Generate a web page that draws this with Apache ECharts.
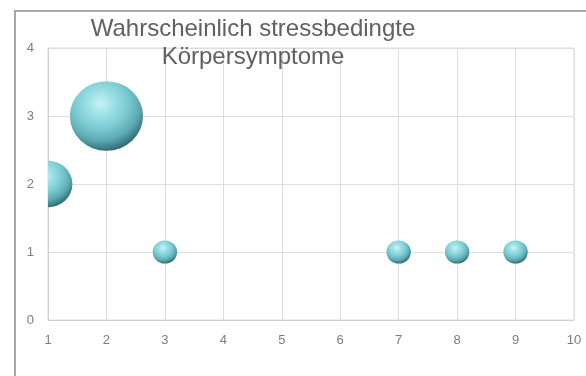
<!DOCTYPE html>
<html>
<head>
<meta charset="utf-8">
<script src="https://cdn.jsdelivr.net/npm/echarts@6/dist/echarts.min.js"></script>
<style>
  html, body { margin: 0; padding: 0; background: #ffffff; }
  #chart { width: 586px; height: 376px; }
</style>
</head>
<body>
<div id="chart"></div>
<script>
// Bubble data: symptom number, frequency, bubble size
const xValues = [1, 2, 3, 7, 8, 9];
const yValues = [2, 3, 1, 1, 1, 1];
const bubbleSizes = [2, 3, 1, 1, 1, 1];

const xTicks = { min: 1, max: 10, interval: 1 };
const yTicks = { min: 0, max: 4, interval: 1 };

const titleText = 'Wahrscheinlich stressbedingte\nKörpersymptome';

const points = xValues.map((x, i) => [x, yValues[i], bubbleSizes[i]]);

// Shaded sphere look for each bubble
const sphereFill = {
  type: 'radial', x: 0.42, y: 0.32, r: 0.72,
  colorStops: [
    { offset: 0, color: '#c8f3f7' },
    { offset: 0.22, color: '#a0e2e8' },
    { offset: 0.5, color: '#7ccbd3' },
    { offset: 0.75, color: '#5ba8b0' },
    { offset: 0.9, color: '#3b7c84' },
    { offset: 1, color: '#285b61' }
  ]
};

const chart = echarts.init(document.getElementById('chart'), null, { renderer: 'canvas' });

chart.setOption({
  animation: false,
  backgroundColor: '#ffffff',
  title: {
    text: titleText,
    left: 248,
    top: 10,
    textAlign: 'center',
    textStyle: {
      fontFamily: 'Liberation Sans, Arial, sans-serif',
      fontSize: 24,
      fontWeight: 'normal',
      color: '#606060',
      lineHeight: 28
    }
  },
  graphic: [
    {
      type: 'polyline',
      shape: { points: [[15, 376], [15, 11], [586, 11]] },
      style: { stroke: '#a8a8a8', lineWidth: 2, fill: null },
      silent: true
    }
  ],
  grid: {
    left: 48, right: 12, top: 48, bottom: 56,
    show: true, borderColor: '#dcdcdc', borderWidth: 1
  },
  xAxis: {
    type: 'value',
    min: xTicks.min, max: xTicks.max, interval: xTicks.interval,
    axisLine: { show: true, lineStyle: { color: '#d0d0d0', width: 1 } },
    axisTick: { show: false },
    splitLine: { show: true, lineStyle: { color: '#dedede', width: 1 } },
    axisLabel: {
      margin: 14,
      color: '#7d7d7d',
      fontSize: 13,
      fontFamily: 'Liberation Sans, Arial, sans-serif'
    }
  },
  yAxis: {
    type: 'value',
    min: yTicks.min, max: yTicks.max, interval: yTicks.interval,
    axisLine: { show: true, lineStyle: { color: '#d0d0d0', width: 1 } },
    axisTick: { show: false },
    splitLine: { show: true, lineStyle: { color: '#dedede', width: 1 } },
    axisLabel: {
      margin: 14,
      color: '#7d7d7d',
      fontSize: 13,
      fontFamily: 'Liberation Sans, Arial, sans-serif'
    }
  },
  series: [
    {
      type: 'custom',
      clip: true,
      data: points,
      encode: { x: 0, y: 1 },
      renderItem: function (params, api) {
        const c = api.coord([api.value(0), api.value(1)]);
        const s = api.value(2);
        const rx = 12.2 * s;
        const ry = 11.6 * s;
        return {
          type: 'circle',
          x: c[0],
          y: c[1],
          scaleY: ry / rx,
          shape: { cx: 0, cy: 0, r: rx },
          style: { fill: sphereFill }
        };
      }
    }
  ]
});
</script>
</body>
</html>
